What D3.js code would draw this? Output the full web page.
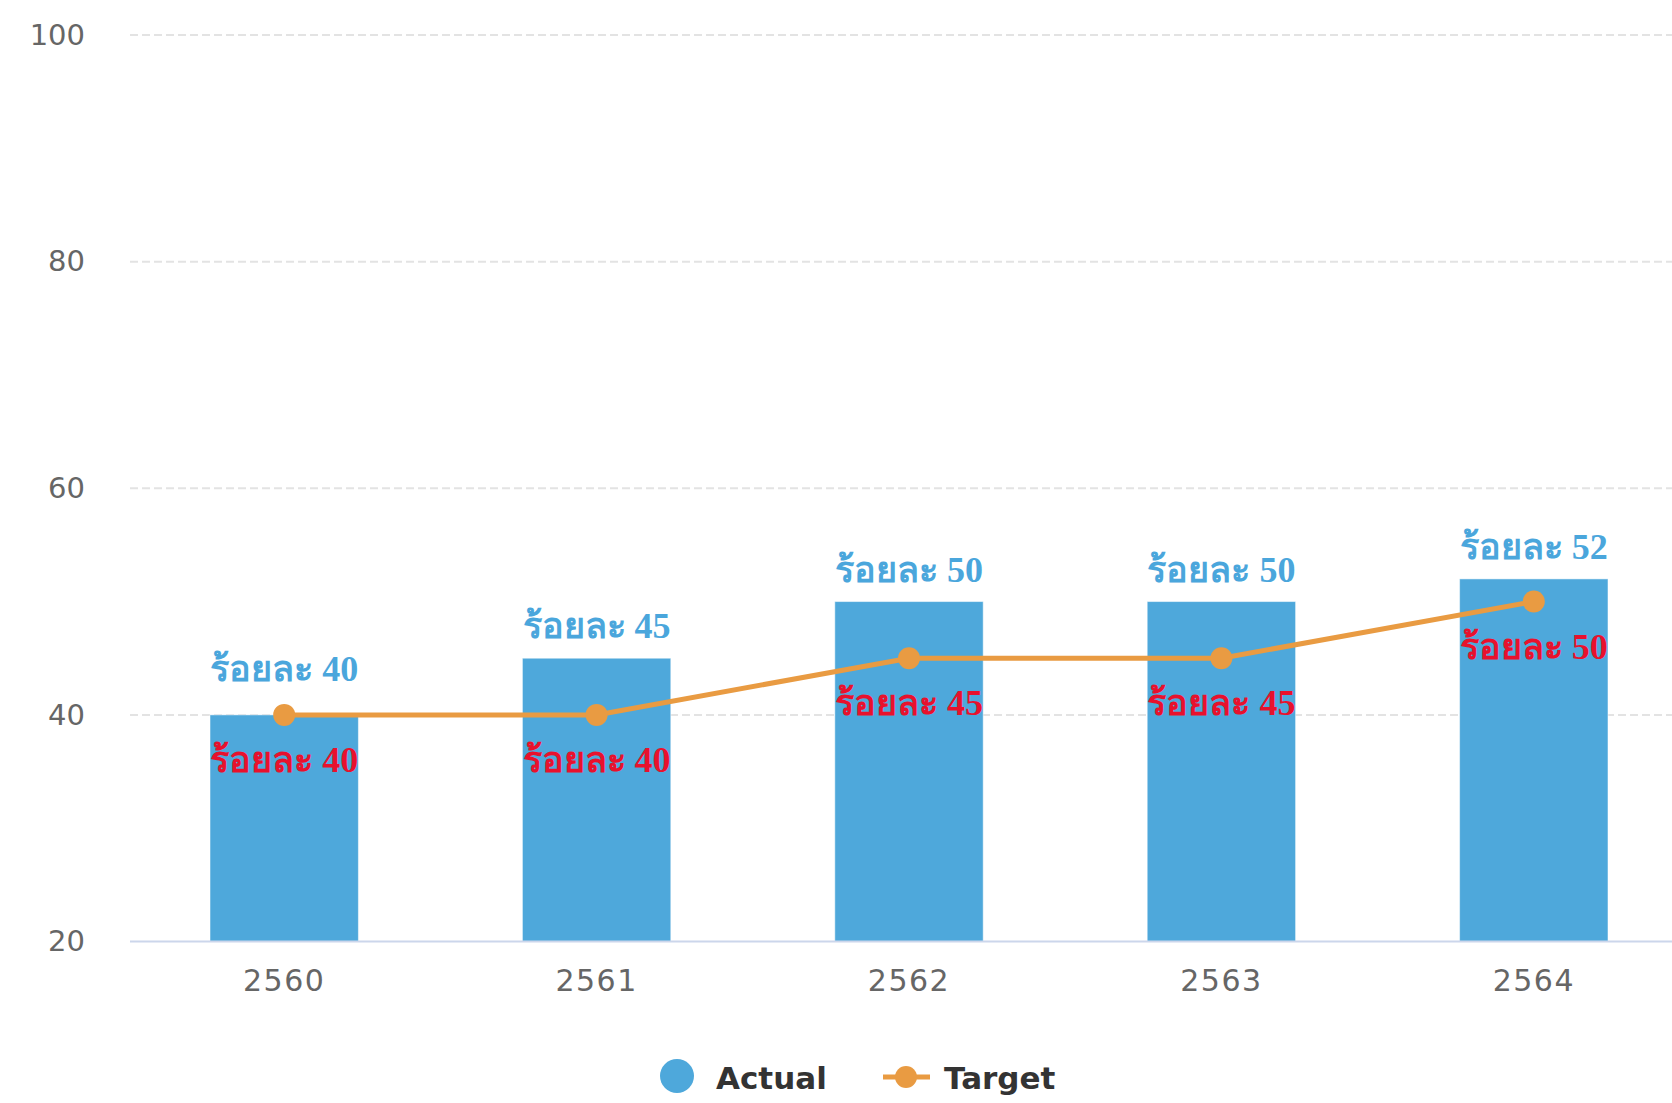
<!DOCTYPE html>
<html lang="th">
<head>
<meta charset="utf-8">
<script src="https://d3js.org/d3.v7.min.js"></script>
<style>
  body { margin: 0; background: #fff; }
  svg { display: block; }
  .tick text { font-family: "DejaVu Sans", Verdana, sans-serif; fill: #666; }
  .lbl { font-family: "Liberation Serif", serif; font-weight: bold; }
</style>
</head>
<body>
<script>
// chart data
const years = ["2560", "2561", "2562", "2563", "2564"];
const actual = [40, 45, 50, 50, 52];
const target = [40, 40, 45, 45, 50];
const yTicks = [20, 40, 60, 80, 100];
const labelPrefix = "ร้อยละ ";
const seriesNames = ["Actual", "Target"];

const width = 1672, height = 1103;
const barColor = "#4ea8db", lineColor = "#e99b42";

const svg = d3.select("body").append("svg")
    .attr("width", width)
    .attr("height", height);

const x = d3.scaleBand()
    .domain(years)
    .range([128, 1690])
    .paddingInner(0.525)
    .paddingOuter(0.2625);

const y = d3.scaleLinear()
    .domain([20, 100])
    .range([941.5, 35]);

// grid
svg.append("g")
    .selectAll("line")
    .data(yTicks.filter(d => d > 20))
    .join("line")
    .attr("x1", 130).attr("x2", width)
    .attr("y1", d => y(d)).attr("y2", d => y(d))
    .attr("stroke", "#e3e3e3")
    .attr("stroke-width", 2)
    .attr("stroke-dasharray", "8,4");

// y axis labels
const yAxis = svg.append("g")
    .attr("transform", "translate(85,0)")
    .call(d3.axisLeft(y).tickValues(yTicks).tickSize(0).tickPadding(0));
yAxis.select(".domain").remove();
yAxis.selectAll("text").style("font-size", "29px");

// bars
svg.append("g")
    .selectAll("rect")
    .data(actual)
    .join("rect")
    .attr("x", (d, i) => x(years[i]))
    .attr("y", d => y(d))
    .attr("width", x.bandwidth())
    .attr("height", d => y(20) - y(d))
    .attr("fill", barColor)
    .attr("stroke", "#ffffff")
    .attr("stroke-opacity", 0.5)
    .attr("stroke-width", 1);

// x axis
svg.append("line")
    .attr("x1", 130).attr("x2", width)
    .attr("y1", y(20)).attr("y2", y(20))
    .attr("stroke", "#ccd6eb")
    .attr("stroke-width", 2);

const xAxis = svg.append("g")
    .attr("transform", "translate(0," + y(20) + ")")
    .call(d3.axisBottom(x).tickSize(0).tickPadding(28));
xAxis.select(".domain").remove();
xAxis.selectAll("text").style("font-size", "30px").style("letter-spacing", "1.5px");

// target line
const cx = i => x(years[i]) + x.bandwidth() / 2;
const line = d3.line()
    .x((d, i) => cx(i))
    .y(d => y(d));

svg.append("path")
    .datum(target)
    .attr("d", line)
    .attr("fill", "none")
    .attr("stroke", lineColor)
    .attr("stroke-width", 5);

svg.append("g")
    .selectAll("circle")
    .data(target)
    .join("circle")
    .attr("cx", (d, i) => cx(i))
    .attr("cy", d => y(d))
    .attr("r", 11)
    .attr("fill", lineColor);

// data labels
svg.append("g")
    .selectAll("text")
    .data(actual)
    .join("text")
    .attr("class", "lbl")
    .attr("x", (d, i) => cx(i))
    .attr("y", (d, i) => Math.min(y(d) - 20, y(target[i]) - 34))
    .attr("text-anchor", "middle")
    .attr("fill", "#4aa6dc")
    .style("font-size", "36px")
    .text(d => labelPrefix + d);

svg.append("g")
    .selectAll("text")
    .data(target)
    .join("text")
    .attr("class", "lbl")
    .attr("x", (d, i) => cx(i))
    .attr("y", d => y(d) + 57)
    .attr("text-anchor", "middle")
    .attr("fill", "#e8112d")
    .style("font-size", "36px")
    .text(d => labelPrefix + d);

// legend
const legend = svg.append("g")
    .style("font-family", "'DejaVu Sans', Verdana, sans-serif")
    .style("font-weight", "bold")
    .style("font-size", "31px");

legend.append("circle")
    .attr("cx", 677).attr("cy", 1076).attr("r", 17)
    .attr("fill", barColor);
legend.append("text")
    .attr("x", 716).attr("y", 1089)
    .attr("fill", "#333")
    .text(seriesNames[0]);

legend.append("line")
    .attr("x1", 883).attr("x2", 930)
    .attr("y1", 1077).attr("y2", 1077)
    .attr("stroke", lineColor).attr("stroke-width", 5);
legend.append("circle")
    .attr("cx", 906).attr("cy", 1077).attr("r", 11)
    .attr("fill", lineColor);
legend.append("text")
    .attr("x", 944).attr("y", 1089)
    .attr("fill", "#333")
    .text(seriesNames[1]);
</script>
</body>
</html>
